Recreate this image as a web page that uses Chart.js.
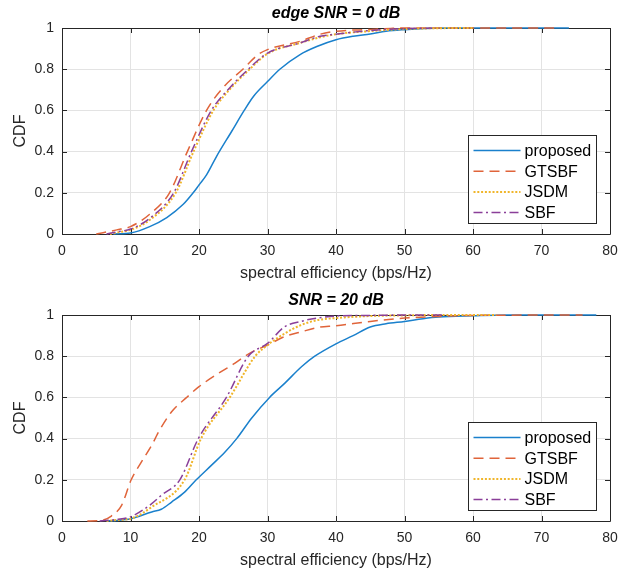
<!DOCTYPE html>
<html>
<head>
    <title>CDF of spectral efficiency</title>
    <script src="https://cdn.jsdelivr.net/npm/chart.js"></script>
    <style>
        body { margin: 0; background: #ffffff; }
        .panel { position: absolute; left: 0; width: 620px; height: 288px; }
        #topPanel { top: 0; }
        #bottomPanel { top: 287px; }
    </style>
</head>
<body>
    <div class="panel" id="topPanel"><canvas id="topChart" width="620" height="288"></canvas></div>
    <div class="panel" id="bottomPanel"><canvas id="bottomChart" width="620" height="288"></canvas></div>

    <script>
        // series names and tick labels
        const seriesNames = ['proposed', 'GTSBF', 'JSDM', 'SBF'];
        const xTicks = [0, 10, 20, 30, 40, 50, 60, 70, 80];
        const yTicks = [0, 0.2, 0.4, 0.6, 0.8, 1];

        // top panel: edge SNR = 0 dB
        const topProposedX = [7.5, 10, 12.8, 15.3, 17.7, 19.15, 20, 21.1, 22.55, 24.8, 26.6, 28, 30, 31.8, 34.7, 37.2, 40, 42.5, 45, 47.3, 50, 53, 56, 74];
        const topProposedY = [0, 0.005, 0.036, 0.08, 0.144, 0.2, 0.238, 0.287, 0.376, 0.5, 0.6, 0.67, 0.74, 0.8, 0.87, 0.91, 0.943, 0.96, 0.971, 0.984, 0.992, 0.998, 1, 1];
        const topGtsbfX = [5, 8, 10, 12.8, 15.7, 18.3, 21.1, 23.5, 26.4, 28.6, 30, 34.7, 37.7, 40, 45, 48, 50, 72];
        const topGtsbfY = [0, 0.02, 0.036, 0.096, 0.2, 0.4, 0.6, 0.71, 0.8, 0.87, 0.895, 0.935, 0.97, 0.984, 0.993, 0.998, 1, 1];
        const topJsdmX = [7, 8.5, 10, 12.8, 16.6, 19.2, 22.1, 24.7, 27.4, 30, 34.7, 37.7, 40, 45, 50, 55, 60];
        const topJsdmY = [0, 0.01, 0.02, 0.068, 0.2, 0.4, 0.6, 0.71, 0.8, 0.875, 0.927, 0.955, 0.97, 0.985, 0.995, 0.999, 1];
        const topSbfX = [6.5, 8, 10, 12.8, 16.3, 18.9, 21.8, 24.5, 27.2, 30, 34.7, 37.7, 40, 45, 50, 54];
        const topSbfY = [0, 0.01, 0.024, 0.076, 0.2, 0.4, 0.6, 0.71, 0.8, 0.878, 0.927, 0.96, 0.97, 0.988, 0.997, 1];

        // bottom panel: SNR = 20 dB
        const botProposedX = [6.5, 8, 10, 13.1, 14.5, 16, 17.9, 19.6, 21.8, 23.8, 25.5, 27.7, 30.3, 32.5, 35, 36.9, 40, 42.5, 45, 47.3, 50, 52.7, 55, 60, 65, 78];
        const botProposedY = [0, 0.003, 0.011, 0.044, 0.057, 0.092, 0.14, 0.2, 0.27, 0.335, 0.4, 0.5, 0.6, 0.668, 0.75, 0.8, 0.86, 0.9, 0.942, 0.958, 0.969, 0.982, 0.99, 0.996, 1, 1];
        const botGtsbfX = [3.7, 5.8, 7.2, 8.7, 10.1, 11.6, 13.1, 13.6, 14.1, 16, 18.2, 20, 22.8, 25.2, 26.7, 27.7, 30, 32.5, 34.8, 37.4, 40, 45, 50, 55, 60, 76];
        const botGtsbfY = [0, 0.003, 0.024, 0.076, 0.2, 0.287, 0.368, 0.4, 0.433, 0.53, 0.6, 0.652, 0.716, 0.765, 0.8, 0.82, 0.854, 0.895, 0.917, 0.94, 0.948, 0.969, 0.985, 0.993, 0.998, 1];
        const botJsdmX = [6.5, 8, 10, 13.1, 17.9, 20.3, 24.5, 28.2, 30, 32.5, 34.8, 37.4, 40, 45, 50, 55, 63.4];
        const botJsdmY = [0, 0.005, 0.011, 0.068, 0.2, 0.4, 0.6, 0.8, 0.854, 0.91, 0.95, 0.976, 0.985, 0.995, 0.998, 1, 1];
        const botSbfX = [5.5, 8, 10, 13.1, 14.5, 17.2, 19.9, 24, 27.2, 30, 32.5, 35, 37.2, 40, 45, 50, 56];
        const botSbfY = [0, 0.008, 0.02, 0.084, 0.125, 0.2, 0.4, 0.6, 0.8, 0.862, 0.943, 0.97, 0.985, 0.995, 0.998, 1, 1];

        const colors = ['#1a80cc', '#e0643a', '#f0b52a', '#8a3f99'];
        const dashes = [[], [10, 6], [2, 1.8], [9, 3.5, 2, 3.5]];
        const widths = [1.5, 1.5, 2, 1.5];
        const axisColor = '#262626';
        const fontFamily = "'Liberation Sans', Arial, Helvetica, sans-serif";

        function toPoints(xs, ys) {
            return xs.map((x, i) => ({ x: x, y: ys[i] }));
        }

        // MATLAB-like box with inward ticks (under the data), title and legend (over it)
        const matlabFrame = {
            id: 'matlabFrame',
            beforeDatasetsDraw(chart) {
                const ctx = chart.ctx;
                const a = chart.chartArea;
                const xs = chart.scales.x, ys = chart.scales.y;
                ctx.save();
                ctx.strokeStyle = axisColor;
                ctx.lineWidth = 1;
                ctx.beginPath();
                ctx.rect(Math.round(a.left) + 0.5, Math.round(a.top) + 0.5,
                    Math.round(a.right - a.left), Math.round(a.bottom - a.top));
                ctx.stroke();
                const tl = 5;
                ctx.beginPath();
                xTicks.forEach(v => {
                    const px = Math.round(xs.getPixelForValue(v)) + 0.5;
                    ctx.moveTo(px, a.bottom); ctx.lineTo(px, a.bottom - tl);
                    ctx.moveTo(px, a.top); ctx.lineTo(px, a.top + tl);
                });
                yTicks.forEach(v => {
                    const py = Math.round(ys.getPixelForValue(v)) + 0.5;
                    ctx.moveTo(a.left, py); ctx.lineTo(a.left + tl, py);
                    ctx.moveTo(a.right, py); ctx.lineTo(a.right - tl, py);
                });
                ctx.stroke();
                ctx.restore();
            },
            afterDraw(chart, args, opts) {
                const ctx = chart.ctx;
                const a = chart.chartArea;
                ctx.save();
                // title
                ctx.fillStyle = '#000000';
                ctx.font = "italic bold 16px " + fontFamily;
                ctx.textAlign = 'center';
                ctx.textBaseline = 'middle';
                ctx.fillText(opts.title, (a.left + a.right) / 2, 14);

                // legend
                const w = 128, h = 88;
                const lx = Math.round(a.right - 14 - w) + 0.5;
                const ly = Math.round(a.bottom - 11 - h) + 0.5;
                ctx.fillStyle = '#ffffff';
                ctx.fillRect(lx, ly, w, h);
                ctx.strokeStyle = axisColor;
                ctx.lineWidth = 1;
                ctx.strokeRect(lx, ly, w, h);
                ctx.font = "16px " + fontFamily;
                ctx.textAlign = 'left';
                chart.data.datasets.forEach((ds, i) => {
                    const ry = ly + 15 + i * 20.7;
                    ctx.strokeStyle = ds.borderColor;
                    ctx.lineWidth = ds.borderWidth;
                    ctx.setLineDash(ds.borderDash);
                    ctx.beginPath();
                    ctx.moveTo(lx + 5, ry);
                    ctx.lineTo(lx + 52, ry);
                    ctx.stroke();
                    ctx.setLineDash([]);
                    ctx.fillStyle = '#000000';
                    ctx.fillText(ds.label, lx + 56, ry + 1);
                });
                ctx.restore();
            }
        };

        function makeChart(id, title, series) {
            const datasets = series.map((s, i) => ({
                label: seriesNames[i],
                data: toPoints(s[0], s[1]),
                borderColor: colors[i],
                borderDash: dashes[i],
                borderWidth: widths[i],
                pointRadius: 0,
                fill: false,
                clip: 4,
                cubicInterpolationMode: 'monotone',
                order: 4 - i
            }));
            return new Chart(document.getElementById(id), {
                type: 'line',
                data: { datasets: datasets },
                options: {
                    responsive: false,
                    animation: false,
                    devicePixelRatio: 1,
                    layout: { padding: { top: 28, right: 10, left: 0, bottom: 0 } },
                    plugins: {
                        legend: { display: false },
                        tooltip: { enabled: false },
                        matlabFrame: { title: title }
                    },
                    scales: {
                        x: {
                            type: 'linear',
                            min: 0, max: 80,
                            afterBuildTicks: s => { s.ticks = xTicks.map(v => ({ value: v })); },
                            afterFit: s => { s.height = 54; s.paddingLeft = 0; s.paddingRight = 0; },
                            grid: { color: '#e3e3e3', drawTicks: false },
                            border: { display: false },
                            ticks: {
                                autoSkip: false, maxRotation: 0, padding: 9,
                                color: axisColor, font: { family: fontFamily, size: 14 }
                            },
                            title: {
                                display: true, text: 'spectral efficiency (bps/Hz)',
                                color: axisColor, font: { family: fontFamily, size: 16 },
                                padding: { top: 0, bottom: 5 }
                            }
                        },
                        y: {
                            min: 0, max: 1,
                            afterBuildTicks: s => { s.ticks = yTicks.map(v => ({ value: v })); },
                            afterFit: s => { s.width = 62; s.paddingTop = 0; s.paddingBottom = 0; },
                            grid: { color: '#e3e3e3', drawTicks: false },
                            border: { display: false },
                            ticks: {
                                padding: 8, color: axisColor,
                                font: { family: fontFamily, size: 14 },
                                callback: v => (v === 0 || v === 1) ? String(v) : v.toFixed(1)
                            },
                            title: {
                                display: true, text: 'CDF',
                                color: axisColor, font: { family: fontFamily, size: 16 },
                                padding: { top: 11, bottom: 0 }
                            }
                        }
                    }
                },
                plugins: [matlabFrame]
            });
        }

        makeChart('topChart', 'edge SNR = 0 dB', [
            [topProposedX, topProposedY],
            [topGtsbfX, topGtsbfY],
            [topJsdmX, topJsdmY],
            [topSbfX, topSbfY]
        ]);
        makeChart('bottomChart', 'SNR = 20 dB', [
            [botProposedX, botProposedY],
            [botGtsbfX, botGtsbfY],
            [botJsdmX, botJsdmY],
            [botSbfX, botSbfY]
        ]);
    </script>
</body>
</html>
